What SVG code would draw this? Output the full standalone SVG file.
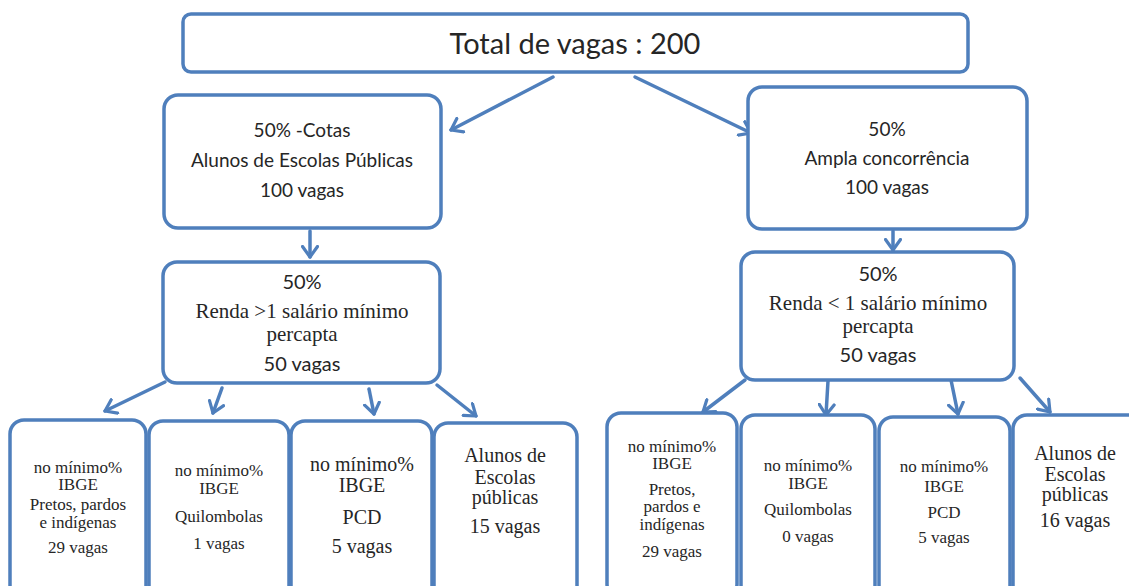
<svg xmlns="http://www.w3.org/2000/svg" width="1129" height="586" viewBox="0 0 1129 586">
<defs>
<style>
.box{fill:#fff;stroke:#4f7fbc;stroke-width:3.5}
.c{stroke:#4f7fbc;stroke-width:3.5;fill:none;stroke-linecap:round}
.s{font-family:Lato,"Liberation Sans",sans-serif;fill:#262626;text-anchor:middle}
.t{font-family:"Liberation Serif","DejaVu Serif",serif;fill:#262626;text-anchor:middle}
</style>
<marker id="ah" viewBox="0 0 14 18" refX="12" refY="9" markerWidth="14" markerHeight="18" markerUnits="userSpaceOnUse" orient="auto">
<path d="M1.5,1.5 L12,9 L1.5,16.5" fill="none" stroke="#4f7fbc" stroke-width="3.2" stroke-linecap="round" stroke-linejoin="round"/>
</marker>
</defs>
<rect width="1129" height="586" fill="#fff"/>
<g id="connectors">
<line class="c" x1="553" y1="77" x2="451" y2="130" marker-end="url(#ah)"/>
<line class="c" x1="635" y1="77" x2="751" y2="133" marker-end="url(#ah)"/>
<line class="c" x1="310" y1="231" x2="310" y2="257" marker-end="url(#ah)"/>
<line class="c" x1="893" y1="231" x2="893" y2="250" marker-end="url(#ah)"/>
<line class="c" x1="165" y1="382" x2="105" y2="411" marker-end="url(#ah)"/>
<line class="c" x1="222" y1="388" x2="213" y2="413" marker-end="url(#ah)"/>
<line class="c" x1="369" y1="389" x2="374" y2="414" marker-end="url(#ah)"/>
<line class="c" x1="437" y1="385" x2="476" y2="416" marker-end="url(#ah)"/>
<line class="c" x1="745" y1="380" x2="703" y2="412" marker-end="url(#ah)"/>
<line class="c" x1="828" y1="381" x2="826" y2="415" marker-end="url(#ah)"/>
<line class="c" x1="951" y1="380" x2="958" y2="414" marker-end="url(#ah)"/>
<line class="c" x1="1020" y1="378" x2="1050" y2="412" marker-end="url(#ah)"/>
</g>
<g id="total">
<rect class="box" x="183" y="14" width="785" height="58" rx="8"/>
<text class="s" x="575" y="54" font-size="29">Total de vagas : 200</text>
</g>
<g id="cotas">
<rect class="box" x="164" y="95" width="277" height="133" rx="14"/>
<text class="s" x="302" y="137" font-size="19">50% -Cotas</text>
<text class="s" x="302" y="167" font-size="19">Alunos de Escolas Públicas</text>
<text class="s" x="302" y="197" font-size="19">100 vagas</text>
</g>
<g id="ampla">
<rect class="box" x="748" y="87" width="279" height="142" rx="14"/>
<text class="s" x="887" y="136" font-size="19">50%</text>
<text class="s" x="887" y="165" font-size="19">Ampla concorrência</text>
<text class="s" x="887" y="194" font-size="19">100 vagas</text>
</g>
<g id="renda-maior">
<rect class="box" x="163" y="262" width="277" height="121" rx="14"/>
<text class="s" x="302" y="289" font-size="20">50%</text>
<text class="t" x="302" y="318" font-size="21">Renda &gt;1 salário mínimo</text>
<text class="t" x="302" y="341" font-size="21">percapta</text>
<text class="s" x="302" y="371" font-size="20">50 vagas</text>
</g>
<g id="renda-menor">
<rect class="box" x="741" y="252" width="273" height="128" rx="14"/>
<text class="s" x="878" y="281" font-size="20">50%</text>
<text class="t" x="878" y="310" font-size="21">Renda &lt; 1 salário mínimo</text>
<text class="t" x="878" y="333" font-size="21">percapta</text>
<text class="s" x="878" y="362" font-size="20">50 vagas</text>
</g>
<g id="l-ppi">
<rect class="box" x="10" y="420" width="136" height="180" rx="14"/>
<text class="t" x="78" y="473" font-size="17">no mínimo%</text>
<text class="t" x="78" y="490" font-size="17">IBGE</text>
<text class="t" x="78" y="510" font-size="17">Pretos, pardos</text>
<text class="t" x="78" y="528" font-size="17">e indígenas</text>
<text class="t" x="78" y="553" font-size="17">29 vagas</text>
</g>
<g id="l-quil">
<rect class="box" x="149" y="421" width="140" height="180" rx="14"/>
<text class="t" x="219" y="476" font-size="17">no mínimo%</text>
<text class="t" x="219" y="494" font-size="17">IBGE</text>
<text class="t" x="219" y="522" font-size="17">Quilombolas</text>
<text class="t" x="219" y="549" font-size="17">1 vagas</text>
</g>
<g id="l-pcd">
<rect class="box" x="291" y="421" width="141" height="180" rx="14"/>
<text class="t" x="362" y="471" font-size="20">no mínimo%</text>
<text class="t" x="362" y="492" font-size="20">IBGE</text>
<text class="t" x="362" y="524" font-size="20">PCD</text>
<text class="t" x="362" y="553" font-size="20">5 vagas</text>
</g>
<g id="l-esc">
<rect class="box" x="434" y="423" width="143" height="180" rx="14"/>
<text class="t" x="505" y="462" font-size="20">Alunos de</text>
<text class="t" x="505" y="484" font-size="20">Escolas</text>
<text class="t" x="505" y="504" font-size="20">públicas</text>
<text class="t" x="505" y="533" font-size="20">15 vagas</text>
</g>
<g id="r-ppi">
<rect class="box" x="607" y="413" width="130" height="185" rx="14"/>
<text class="t" x="672" y="452" font-size="17">no mínimo%</text>
<text class="t" x="672" y="469" font-size="17">IBGE</text>
<text class="t" x="672" y="495" font-size="17">Pretos,</text>
<text class="t" x="672" y="512" font-size="17">pardos e</text>
<text class="t" x="672" y="530" font-size="17">indígenas</text>
<text class="t" x="672" y="557" font-size="17">29 vagas</text>
</g>
<g id="r-quil">
<rect class="box" x="741" y="415" width="134" height="185" rx="14"/>
<text class="t" x="808" y="471" font-size="17">no mínimo%</text>
<text class="t" x="808" y="489" font-size="17">IBGE</text>
<text class="t" x="808" y="515" font-size="17">Quilombolas</text>
<text class="t" x="808" y="542" font-size="17">0 vagas</text>
</g>
<g id="r-pcd">
<rect class="box" x="879" y="417" width="131" height="185" rx="14"/>
<text class="t" x="944" y="472" font-size="17">no mínimo%</text>
<text class="t" x="944" y="492" font-size="17">IBGE</text>
<text class="t" x="944" y="518" font-size="17">PCD</text>
<text class="t" x="944" y="543" font-size="17">5 vagas</text>
</g>
<g id="r-esc">
<rect class="box" x="1013" y="415" width="140" height="185" rx="14"/>
<text class="t" x="1075" y="460" font-size="20">Alunos de</text>
<text class="t" x="1075" y="481" font-size="20">Escolas</text>
<text class="t" x="1075" y="501" font-size="20">públicas</text>
<text class="t" x="1075" y="527" font-size="20">16 vagas</text>
</g>
</svg>
